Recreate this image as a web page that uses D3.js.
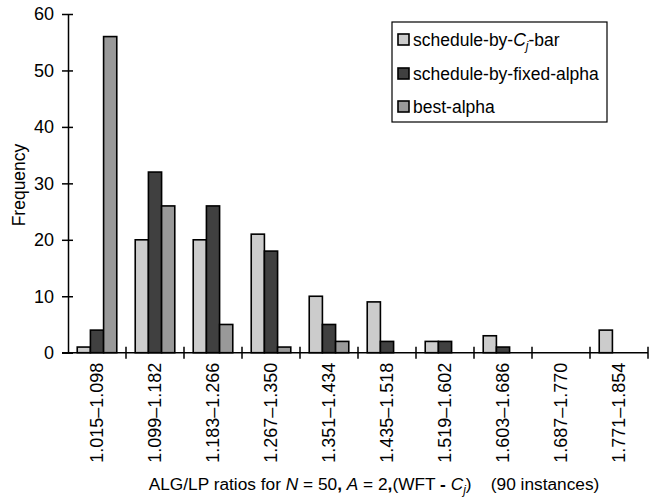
<!DOCTYPE html>
<html>
<head>
<meta charset="utf-8">
<script src="https://cdn.jsdelivr.net/npm/d3@7"></script>
<style>
  body { margin: 0; background: #fff; }
  svg { display: block; }
  text { font-family: "Liberation Sans", Arial, Helvetica, sans-serif; fill: #000; }
</style>
</head>
<body>
<svg id="chart" width="652" height="504"></svg>
<script>
// ratio bins on the x axis
const categories = ['1.015\u20131.098', '1.099\u20131.182', '1.183\u20131.266', '1.267\u20131.350',
  '1.351\u20131.434', '1.435\u20131.518', '1.519\u20131.602', '1.603\u20131.686',
  '1.687\u20131.770', '1.771\u20131.854'];

const seriesNames = ['cjbar', 'fixed', 'best'];
const cjBar = [1, 20, 20, 21, 10, 9, 2, 3, 0, 4];
const fixedAlpha = [4, 32, 26, 18, 5, 2, 2, 1, 0, 0];
const bestAlpha = [56, 26, 5, 1, 2, 0, 0, 0, 0, 0];
const yTicks = [0, 10, 20, 30, 40, 50, 60];

const colors = { cjbar: '#cccccc', fixed: '#404040', best: '#999999' };

const svg = d3.select('#chart');
const margin = { top: 14, right: 4, bottom: 151, left: 68 };
const width = 648 - margin.left;
const height = 352.7 - margin.top;

const g = svg.append('g')
  .attr('transform', `translate(${margin.left},${margin.top})`);

const x0 = d3.scaleBand()
  .domain(categories)
  .range([0, width]);

const x1 = d3.scaleBand()
  .domain(seriesNames)
  .range([0, x0.bandwidth()])
  .paddingOuter(0.7);

const y = d3.scaleLinear()
  .domain([0, 60])
  .range([height, 0]);

const rows = categories.map((c, i) => ({
  cat: c,
  values: [
    { key: 'cjbar', v: cjBar[i] },
    { key: 'fixed', v: fixedAlpha[i] },
    { key: 'best', v: bestAlpha[i] }
  ]
}));

// bars
const groups = g.selectAll('.group')
  .data(rows)
  .enter()
  .append('g')
  .attr('class', 'group')
  .attr('transform', d => `translate(${x0(d.cat)},0)`);

groups.selectAll('rect')
  .data(d => d.values.filter(v => v.v > 0))
  .enter()
  .append('rect')
  .attr('x', d => x1(d.key))
  .attr('y', d => y(d.v))
  .attr('width', x1.bandwidth())
  .attr('height', d => y(0) - y(d.v))
  .attr('fill', d => colors[d.key])
  .attr('stroke', '#000')
  .attr('stroke-width', 1.6);

// y axis
const yAxis = g.append('g')
  .call(d3.axisLeft(y).tickValues(yTicks).tickSize(0).tickPadding(14));
yAxis.select('.domain').attr('stroke', '#000').attr('stroke-width', 1.5);
yAxis.selectAll('.tick line')
  .attr('x1', -6).attr('x2', 5)
  .attr('stroke', '#000').attr('stroke-width', 1.5);
yAxis.selectAll('.tick text')
  .style('font-size', '18px')
  .style('font-family', '"Liberation Sans", Arial, sans-serif');

// x axis with labels rotated
const xAxis = g.append('g')
  .attr('transform', `translate(0,${height})`)
  .call(d3.axisBottom(x0).tickSize(0).tickSizeOuter(0));
xAxis.select('.domain')
  .attr('d', `M-6,0H${width}`)
  .attr('stroke', '#000').attr('stroke-width', 1.5);
xAxis.selectAll('.tick text')
  .attr('transform', 'translate(0,10) rotate(-90)')
  .attr('x', 0)
  .attr('y', 0)
  .attr('dy', '0.35em')
  .attr('text-anchor', 'end')
  .style('font-size', '18px')
  .style('font-family', '"Liberation Sans", Arial, sans-serif');

// boundary ticks between bins
xAxis.selectAll('.bound')
  .data(categories.slice(1).map(c => x0(c)).concat([width]))
  .enter()
  .append('line')
  .attr('class', 'bound')
  .attr('x1', d => d).attr('x2', d => d)
  .attr('y1', -6).attr('y2', 6)
  .attr('stroke', '#000').attr('stroke-width', 1.5);

// y title
svg.append('text')
  .attr('transform', 'translate(25,185) rotate(-90)')
  .attr('text-anchor', 'middle')
  .style('font-size', '17.5px')
  .text('Frequency');

// x title
const title = svg.append('text')
  .attr('x', 374)
  .attr('y', 490)
  .attr('text-anchor', 'middle')
  .attr('xml:space', 'preserve')
  .style('font-size', '17.3px');
title.append('tspan').text('ALG/LP ratios for ');
title.append('tspan').style('font-style', 'italic').text('N');
title.append('tspan').text(' = 50');
title.append('tspan').style('font-weight', 'bold').text(',');
title.append('tspan').text(' ');
title.append('tspan').style('font-style', 'italic').text('A');
title.append('tspan').text(' = 2');
title.append('tspan').style('font-weight', 'bold').text(',');
title.append('tspan').text('(WFT ');
title.append('tspan').style('font-weight', 'bold').text('-');
title.append('tspan').text(' ');
title.append('tspan').style('font-style', 'italic').text('C');
title.append('tspan').style('font-style', 'italic').style('font-size', '12px').attr('dy', 4).text('j');
title.append('tspan').attr('dy', -4).text(')\u00a0\u00a0\u00a0\u00a0(90 instances)');

// legend
const legend = svg.append('g');
legend.append('rect')
  .attr('x', 392).attr('y', 22)
  .attr('width', 215).attr('height', 100)
  .attr('fill', '#fff')
  .attr('stroke', '#000')
  .attr('stroke-width', 1.2);

const legendRows = [
  { key: 'cjbar', baseline: 46 },
  { key: 'fixed', baseline: 80 },
  { key: 'best', baseline: 113 }
];

legend.selectAll('.swatch')
  .data(legendRows)
  .enter()
  .append('rect')
  .attr('class', 'swatch')
  .attr('x', 398)
  .attr('y', d => d.baseline - 12)
  .attr('width', 11)
  .attr('height', 11)
  .attr('fill', d => colors[d.key])
  .attr('stroke', '#000')
  .attr('stroke-width', 1.6);

const lt = legend.selectAll('.ltext')
  .data(legendRows)
  .enter()
  .append('text')
  .attr('class', 'ltext')
  .attr('x', 413)
  .attr('y', d => d.baseline)
  .style('font-size', '17.5px');

lt.each(function(d) {
  const t = d3.select(this);
  if (d.key === 'cjbar') {
    t.append('tspan').text('schedule-by-');
    t.append('tspan').style('font-style', 'italic').text('C');
    t.append('tspan').style('font-style', 'italic').style('font-size', '12px').attr('dy', 4).text('j');
    t.append('tspan').attr('dy', -4).text('-bar');
  } else if (d.key === 'fixed') {
    t.text('schedule-by-fixed-alpha');
  } else {
    t.text('best-alpha');
  }
});
</script>
</body>
</html>
